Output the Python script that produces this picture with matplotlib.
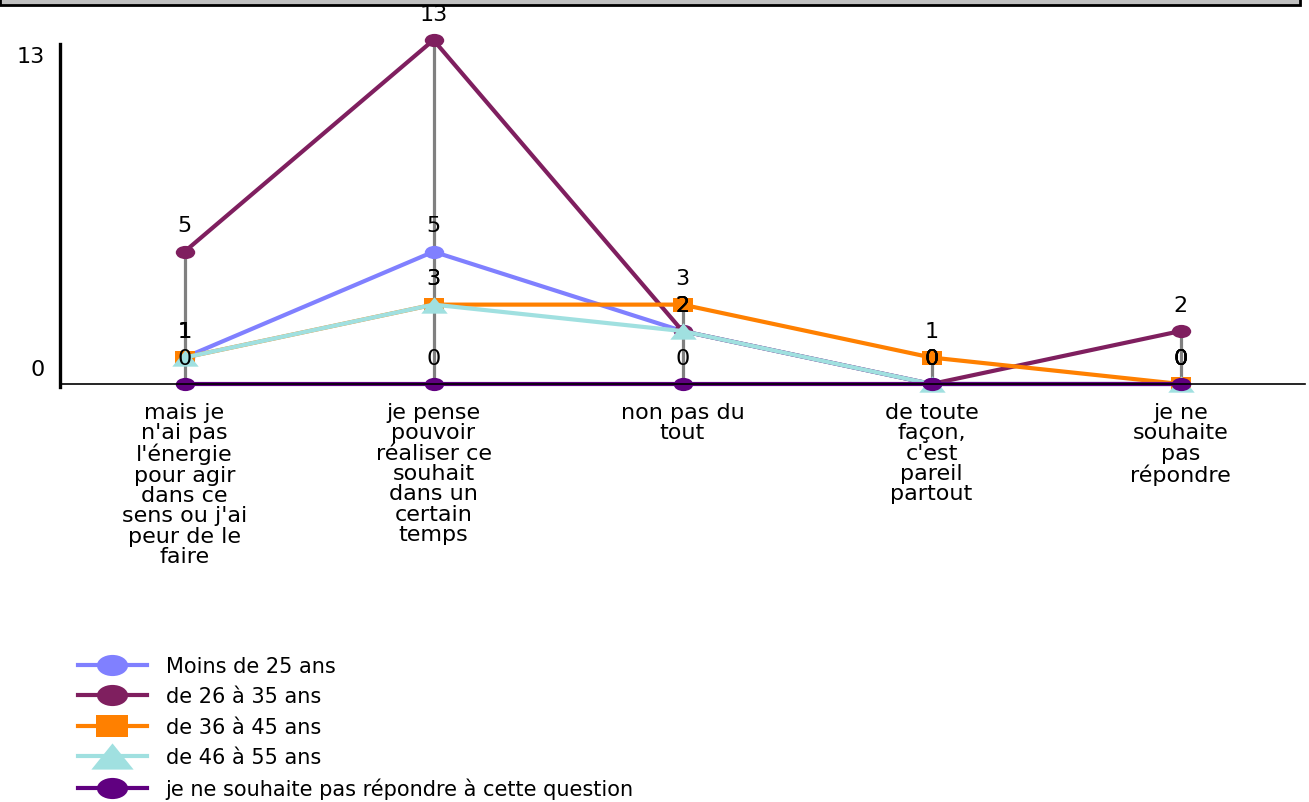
import numpy as np
import matplotlib
matplotlib.use("Agg")
import matplotlib.pyplot as plt
from matplotlib.path import Path
from matplotlib.patches import Rectangle
from matplotlib.transforms import ScaledTranslation, Affine2D

plt.rcParams["font.family"] = ["DejaVu Sans"]

# --- data ---
categories = [
    "mais je\nn'ai pas\nl'énergie\npour agir\ndans ce\nsens ou j'ai\npeur de le\nfaire",
    "je pense\npouvoir\nréaliser ce\nsouhait\ndans un\ncertain\ntemps",
    "non pas du\ntout",
    "de toute\nfaçon,\nc'est\npareil\npartout",
    "je ne\nsouhaite\npas\nrépondre",
]
series_names = [
    "Moins de 25 ans",
    "de 26 à 35 ans",
    "de 36 à 45 ans",
    "de 46 à 55 ans",
    "je ne souhaite pas répondre à cette question",
]
moins_25 = [1, 5, 2, 0, 0]
de_26_35 = [5, 13, 2, 0, 2]
de_36_45 = [1, 3, 3, 1, 0]
de_46_55 = [1, 3, 2, 0, 0]
sans_reponse = [0, 0, 0, 0, 0]
y_ticks = [0, 13]

# wide markers (reference is horizontally stretched)
ellipse = Path.unit_circle().transformed(Affine2D().scale(1.0, 0.68))
rect = Path([(-1, -0.68), (1, -0.68), (1, 0.68), (-1, 0.68), (-1, -0.68)],
            [Path.MOVETO, Path.LINETO, Path.LINETO, Path.LINETO, Path.CLOSEPOLY])
tri = Path([(0, 0.62), (1, -0.62), (-1, -0.62), (0, 0.62)],
           [Path.MOVETO, Path.LINETO, Path.LINETO, Path.CLOSEPOLY])

styles = [
    ("#8080FF", ellipse, 14),
    ("#7F1F5F", ellipse, 14),
    ("#FF8000", rect, 14),
    ("#A0E0E0", tri, 19),
    ("#600080", ellipse, 14),
]
all_series = [moins_25, de_26_35, de_36_45, de_46_55, sans_reponse]

fig = plt.figure(figsize=(13.09, 8.03), dpi=100)
ax = fig.add_axes([60 / 1309, 1 - 385 / 803, (1305 - 60) / 1309, (385 - 41) / 803])

x = np.arange(len(categories))
data = np.array(all_series)

# high-low lines
ax.vlines(x, data.min(axis=0), data.max(axis=0), color="#808080", lw=2.3, zorder=1)

for name, vals, (col, mk, ms) in zip(series_names, all_series, styles):
    ax.plot(x, vals, color=col, lw=3, marker=mk, markersize=ms,
            markeredgewidth=0, label=name, zorder=2, clip_on=False)
    for xi, v in zip(x, vals):
        ax.annotate(str(v), (xi, v), xytext=(0, 19), textcoords="offset points",
                    ha="center", va="center", fontsize=16, color="black",
                    zorder=5, annotation_clip=False)

ax.set_xlim(-0.5, len(categories) - 0.5)
ax.set_ylim(0, 13)
ax.set_xticks(x)
ax.set_xticklabels(categories, fontsize=16, linespacing=1.02)
ax.tick_params(axis="x", length=0, pad=13)
ax.set_yticks(y_ticks)
ax.set_yticklabels([str(t) for t in y_ticks], fontsize=16)
ax.tick_params(axis="y", length=0, pad=11)
# nudge y labels like the reference
shifts = {"0": 12, "13": -10}
for lab in ax.get_yticklabels():
    dy = shifts.get(lab.get_text(), 0)
    lab.set_transform(lab.get_transform() + ScaledTranslation(0, dy / 72, fig.dpi_scale_trans))

for s in ("top", "right"):
    ax.spines[s].set_visible(False)
ax.spines["left"].set_linewidth(2.4)
ax.spines["bottom"].set_linewidth(1.2)
ax.spines["left"].set_bounds(-0.12, 12.85)

leg = fig.legend(loc="upper left", bbox_to_anchor=(78 / 1309, 1 - 657 / 803),
                 frameon=False, fontsize=15, handlelength=3.3, handletextpad=0.9,
                 labelspacing=0.5, borderpad=0, borderaxespad=0, markerscale=1.6)

# clipped title box at the very top
fig.patches.append(Rectangle((0, 1 - 6 / 803), 1300 / 1309, 0.05, transform=fig.transFigure,
                             facecolor="#C0C0C0", edgecolor="black", lw=2, zorder=0))

fig.savefig("out.png", dpi=100)
